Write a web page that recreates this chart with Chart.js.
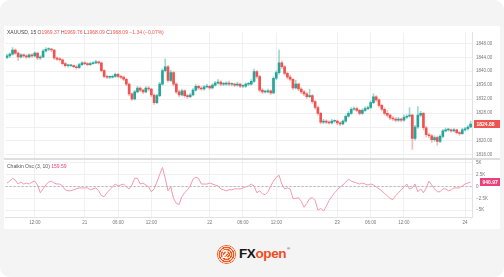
<!DOCTYPE html>
<html>
<head>
<meta charset="utf-8">
<script src="https://cdn.jsdelivr.net/npm/chart.js@4.4.0/dist/chart.umd.min.js"></script>
<style>
    html, body { margin: 0; padding: 0; background: #fff; }
    #frame { position: relative; width: 504px; height: 277px; background: #f4f4f4; border-radius: 10px; overflow: hidden; font-family: "Liberation Sans", Arial, sans-serif; }
    #card { position: absolute; left: 4px; top: 26px; width: 496px; height: 203px; background: #fff; }
    #card canvas { position: absolute; left: 0; top: 0; }
    #emblem { position: absolute; left: 217px; top: 245px; width: 19px; height: 19px; border-radius: 50%;
        background: repeating-radial-gradient(circle, #f15a24 0 1.2px, #fbd3c2 1.2px 2.2px); }
    #emblem span { position: absolute; left: 5px; top: 3px; font: bold 11px "Liberation Sans", Arial; color: #fff; text-shadow: 0 0 1px #f15a24; }
    #brand { position: absolute; left: 239px; top: 246px; font: bold 13.5px "Liberation Sans", Arial; letter-spacing: -0.4px; }
    #brand .fx { color: #151515; }
    #brand .op { color: #f04e23; }
    #brand sup { font-size: 4px; color: #555; vertical-align: 8px; margin-left: 1px; }
</style>
</head>
<body>
<div id="frame">
    <div id="card"><canvas id="chart" width="496" height="203"></canvas></div>
    <div id="emblem"><span>2</span></div>
    <div id="brand"><span class="fx">FX</span><span class="op">open</span><sup>®</sup></div>
</div>
<script>
// XAUUSD candles (30 min buckets)
const opens = [
    1844.0, 1844.4, 1844.9, 1846.1, 1845.2, 1844.1, 1844.7, 1844.4, 1844.1, 1844.7,
    1844.4, 1845.2, 1843.8, 1844.1, 1845.8, 1846.3, 1846.3, 1846.1, 1843.8, 1843.5,
    1843.3, 1842.2, 1841.6, 1841.6, 1841.6, 1841.3, 1841.0, 1841.9, 1842.4, 1842.2,
    1841.9, 1842.2, 1842.4, 1842.7, 1842.4, 1840.2, 1838.5, 1838.3, 1838.3, 1838.5,
    1839.1, 1838.5, 1838.3, 1837.7, 1836.3, 1833.5, 1832.1, 1834.1, 1835.2, 1834.6,
    1834.1, 1835.2, 1834.9, 1833.2, 1831.0, 1833.0, 1836.3, 1840.2, 1841.3, 1837.4,
    1839.6, 1836.3, 1834.1, 1833.2, 1834.4, 1833.0, 1832.7, 1833.2, 1834.6, 1835.7,
    1835.2, 1834.9, 1835.5, 1835.7, 1835.2, 1836.0, 1836.6, 1836.9, 1836.3, 1836.3,
    1836.6, 1836.3, 1836.3, 1836.0, 1836.3, 1835.7, 1835.7, 1836.3, 1836.3, 1837.1,
    1839.9, 1838.5, 1834.6, 1834.1, 1834.1, 1834.4, 1833.8, 1838.0, 1839.6, 1842.4,
    1841.3, 1839.4, 1838.3, 1837.7, 1835.2, 1836.3, 1834.9, 1834.1, 1833.5, 1832.7,
    1833.0, 1831.3, 1829.6, 1827.9, 1825.4, 1825.7, 1825.4, 1825.2, 1825.7, 1825.7,
    1825.2, 1824.9, 1825.7, 1827.1, 1827.9, 1829.1, 1829.3, 1828.8, 1827.9, 1828.8,
    1829.3, 1829.6, 1831.0, 1832.7, 1831.8, 1830.2, 1829.1, 1827.9, 1827.4, 1826.6,
    1826.3, 1826.0, 1826.3, 1826.0, 1826.8, 1827.1, 1827.4, 1820.7, 1824.0, 1827.4,
    1827.9, 1823.8, 1821.8, 1821.5, 1820.4, 1821.0, 1819.9, 1821.3, 1822.9, 1823.2,
    1823.2, 1822.9, 1823.2, 1822.4, 1822.1, 1823.2, 1823.5, 1824.0
];
const closes = [
    1844.4, 1844.9, 1846.1, 1845.2, 1844.1, 1844.7, 1844.4, 1844.1, 1844.7, 1844.4,
    1845.2, 1843.8, 1844.1, 1845.8, 1846.3, 1846.3, 1846.1, 1843.8, 1843.5, 1843.3,
    1842.2, 1841.6, 1841.6, 1841.6, 1841.3, 1841.0, 1841.9, 1842.4, 1842.2, 1841.9,
    1842.2, 1842.4, 1842.7, 1842.4, 1840.2, 1838.5, 1838.3, 1838.3, 1838.5, 1839.1,
    1838.5, 1838.3, 1837.7, 1836.3, 1833.5, 1832.1, 1834.1, 1835.2, 1834.6, 1834.1,
    1835.2, 1834.9, 1833.2, 1831.0, 1833.0, 1836.3, 1840.2, 1841.3, 1837.4, 1839.6,
    1836.3, 1834.1, 1833.2, 1834.4, 1833.0, 1832.7, 1833.2, 1834.6, 1835.7, 1835.2,
    1834.9, 1835.5, 1835.7, 1835.2, 1836.0, 1836.6, 1836.9, 1836.3, 1836.3, 1836.6,
    1836.3, 1836.3, 1836.0, 1836.3, 1835.7, 1835.7, 1836.3, 1836.3, 1837.1, 1839.9,
    1838.5, 1834.6, 1834.1, 1834.1, 1834.4, 1833.8, 1838.0, 1839.6, 1842.4, 1841.3,
    1839.4, 1838.3, 1837.7, 1835.2, 1836.3, 1834.9, 1834.1, 1833.5, 1832.7, 1833.0,
    1831.3, 1829.6, 1827.9, 1825.4, 1825.7, 1825.4, 1825.2, 1825.7, 1825.7, 1825.2,
    1824.9, 1825.7, 1827.1, 1827.9, 1829.1, 1829.3, 1828.8, 1827.9, 1828.8, 1829.3,
    1829.6, 1831.0, 1832.7, 1831.8, 1830.2, 1829.1, 1827.9, 1827.4, 1826.6, 1826.3,
    1826.0, 1826.3, 1826.0, 1826.8, 1827.1, 1827.4, 1820.7, 1824.0, 1827.4, 1827.9,
    1823.8, 1821.8, 1821.5, 1820.4, 1821.0, 1819.9, 1821.3, 1822.9, 1823.2, 1823.2,
    1822.9, 1823.2, 1822.4, 1822.1, 1823.2, 1823.5, 1824.0, 1824.88
];
const highs = [
    1844.9, 1845.3, 1846.8, 1846.4, 1845.5, 1845.1, 1845.0, 1844.8, 1845.0, 1845.0,
    1845.6, 1845.4, 1844.5, 1846.2, 1846.8, 1846.7, 1846.6, 1846.3, 1844.1, 1843.9,
    1843.5, 1842.5, 1842.0, 1841.9, 1841.8, 1841.6, 1842.3, 1842.8, 1842.7, 1842.5,
    1842.6, 1842.8, 1843.1, 1843.0, 1842.6, 1840.5, 1838.9, 1838.7, 1838.9, 1839.5,
    1839.4, 1838.8, 1838.6, 1838.0, 1836.6, 1833.8, 1834.5, 1835.7, 1835.5, 1834.9,
    1835.6, 1835.7, 1835.1, 1833.5, 1833.4, 1836.8, 1840.7, 1843.6, 1841.7, 1840.3,
    1839.9, 1836.7, 1834.6, 1834.9, 1834.7, 1833.4, 1833.7, 1835.0, 1836.2, 1836.0,
    1835.6, 1835.9, 1836.3, 1836.0, 1836.4, 1837.1, 1837.6, 1837.3, 1836.8, 1837.0,
    1837.2, 1836.7, 1836.6, 1836.9, 1836.6, 1836.1, 1836.7, 1836.8, 1837.6, 1840.6,
    1840.2, 1838.8, 1835.0, 1834.6, 1834.9, 1834.7, 1838.4, 1840.1, 1846.1, 1843.0,
    1841.7, 1839.8, 1838.9, 1838.0, 1837.5, 1836.6, 1835.3, 1834.5, 1833.9, 1834.8,
    1833.3, 1831.6, 1830.0, 1828.2, 1826.2, 1826.1, 1825.8, 1826.2, 1826.1, 1826.0,
    1825.5, 1826.1, 1827.5, 1828.4, 1829.6, 1829.8, 1829.7, 1829.1, 1829.2, 1829.8,
    1830.0, 1831.5, 1833.5, 1833.0, 1832.1, 1830.6, 1829.5, 1828.7, 1827.8, 1827.0,
    1826.7, 1826.8, 1826.6, 1827.5, 1827.6, 1829.6, 1827.7, 1824.5, 1829.9, 1828.5,
    1828.2, 1824.2, 1822.3, 1821.9, 1821.5, 1821.4, 1821.8, 1823.3, 1823.7, 1823.6,
    1823.5, 1823.6, 1823.4, 1822.7, 1823.6, 1823.9, 1824.4, 1825.7
];
const lows = [
    1843.6, 1844.0, 1844.6, 1844.8, 1843.1, 1843.8, 1844.0, 1843.7, 1843.8, 1844.0,
    1844.1, 1843.3, 1843.4, 1843.9, 1845.5, 1845.9, 1845.6, 1843.4, 1843.1, 1842.9,
    1841.8, 1841.2, 1841.2, 1841.3, 1841.0, 1840.6, 1840.8, 1841.6, 1841.9, 1841.5,
    1841.7, 1842.0, 1842.2, 1842.0, 1839.8, 1838.1, 1837.9, 1837.9, 1838.0, 1838.2,
    1838.1, 1837.9, 1837.3, 1835.9, 1833.0, 1831.6, 1831.8, 1833.8, 1834.1, 1833.6,
    1833.8, 1834.4, 1832.7, 1830.5, 1830.7, 1832.7, 1836.0, 1839.8, 1836.9, 1837.0,
    1835.8, 1833.6, 1832.7, 1832.9, 1832.5, 1832.2, 1832.4, 1832.9, 1834.3, 1834.8,
    1834.5, 1834.6, 1835.2, 1834.8, 1834.9, 1835.7, 1836.3, 1835.9, 1835.9, 1836.0,
    1835.9, 1835.8, 1835.6, 1835.7, 1835.3, 1835.3, 1835.4, 1835.9, 1836.0, 1836.8,
    1838.0, 1834.1, 1833.6, 1833.7, 1833.8, 1833.3, 1833.5, 1837.6, 1839.2, 1840.8,
    1838.9, 1837.8, 1837.2, 1834.7, 1834.9, 1834.4, 1833.6, 1833.0, 1832.2, 1832.4,
    1830.8, 1829.1, 1827.4, 1824.9, 1825.0, 1825.0, 1824.8, 1824.9, 1825.3, 1824.7,
    1824.4, 1824.6, 1825.4, 1826.8, 1827.6, 1828.8, 1828.4, 1827.5, 1827.6, 1828.5,
    1829.0, 1829.3, 1830.7, 1831.3, 1829.7, 1828.6, 1827.4, 1826.9, 1826.1, 1825.8,
    1825.5, 1825.6, 1825.5, 1825.7, 1826.4, 1826.8, 1817.6, 1820.2, 1823.6, 1826.9,
    1823.2, 1821.2, 1820.9, 1819.6, 1819.9, 1818.8, 1819.5, 1820.9, 1822.6, 1822.8,
    1822.5, 1822.6, 1822.0, 1821.6, 1821.9, 1822.9, 1823.1, 1823.8
];

// Chaikin Oscillator (3, 10)
const chaikin = [
    710, 1120, 1730, 1330, 510, 920, 510, 710, 510, 920,
    1120, 310, -1330, -510, 310, 920, 1120, 710, 510, 510,
    100, -710, -920, -920, -710, -510, -310, -310, -310, -310,
    -710, -510, -310, -920, -1940, -2140, -1330, -710, -100, 510,
    100, 310, 510, -100, -510, 310, 1730, 1730, 510, 710,
    310, -100, -1120, -510, 920, 2550, 3980, 1730, -920, -100,
    -2550, -3570, -3770, -2140, -1330, -710, 100, 1530, 1940, 1730,
    510, 510, 510, 710, 510, 310, 100, -510, -710, -920,
    -710, -710, -510, -510, -510, -310, -100, 100, 510, 100,
    -1330, -920, -1530, -1730, -1120, 100, 1120, 1940, 2350, 510,
    -510, -310, -510, -2550, -2550, -2350, -3160, -4390, -3570, -2550,
    -2350, -2960, -5000, -4590, -5200, -4180, -2960, -2140, -1330, -710,
    -100, 310, 920, 1530, 1120, 920, 710, 510, 710, 510,
    310, 510, 310, -100, -510, -920, -1530, -1940, -2550, -2750,
    -1940, -1330, -710, -100, 510, -510, -310, 510, -1120, -510,
    -1330, -310, 1120, 310, -510, -1120, -1120, -510, -510, -920,
    -710, -310, -310, -310, 100, 510, 710, 940.97
];

// time axis labels and where they sit
const tickIdx = [10, 28, 40, 52, 73, 85, 97, 119, 131, 143, 165];
const tickText = ['12:00', '21', '06:00', '12:00', '22', '06:00', '12:00', '23', '06:00', '12:00', '24'];
const priceTicks = [1848, 1844, 1840, 1836, 1832, 1828, 1824, 1820, 1816];
const oscTicks = [5000, 2500, 0, -2500, -5000];
const oscTickText = ['5K', '2.5K', '0', '\u22122.5K', '\u22125K'];
const chaikinLegend = '159.59';

const UP = '#26a69a';
const DOWN = '#ef5350';

document.addEventListener("DOMContentLoaded", function () {
    const labels = new Array(closes.length).fill('');
    tickIdx.forEach((k, j) => { labels[k] = tickText[j]; });
    const isUp = closes.map((c, i) => c >= opens[i]);

    // legend, pane separator, zero line and last-value tags
    const overlay = {
        id: 'overlay',
        beforeDatasetsDraw(chart) {
            const ctx = chart.ctx;
            const a = chart.chartArea;
            const y2 = chart.scales.y2;
            ctx.save();
            ctx.strokeStyle = '#b5b5b5';
            ctx.lineWidth = 1;
            ctx.setLineDash([2, 2]);
            const z = Math.round(y2.getPixelForValue(0)) + 0.5;
            ctx.beginPath();
            ctx.moveTo(a.left, z);
            ctx.lineTo(a.right, z);
            ctx.stroke();
            ctx.restore();
        },
        afterDraw(chart) {
            const ctx = chart.ctx;
            const y = chart.scales.y;
            const y2 = chart.scales.y2;
            ctx.save();
            // separator between panes
            ctx.fillStyle = '#dedede';
            ctx.fillRect(0, Math.round(y.bottom) - 1, chart.width, 2);

            // header legend
            ctx.font = '5px "Liberation Sans", Arial';
            ctx.textBaseline = 'middle';
            let x = 3;
            const parts = [
                ['XAUUSD, 15 ', '#444'], ['O', '#555'], ['1969.37 ', DOWN], ['H', '#555'], ['1969.76 ', DOWN],
                ['L', '#555'], ['1968.09 ', DOWN], ['C', '#555'], ['1968.09 ', DOWN], ['\u22121.34 (\u22120.07%)', DOWN]
            ];
            parts.forEach(p => {
                ctx.fillStyle = p[1];
                ctx.fillText(p[0], x, 7);
                x += ctx.measureText(p[0]).width;
            });
            // oscillator legend
            x = 3;
            ctx.fillStyle = '#555';
            ctx.fillText('Chaikin Osc (3, 10) ', x, Math.round(y2.top) + 8);
            x += ctx.measureText('Chaikin Osc (3, 10) ').width;
            ctx.fillStyle = '#ec407a';
            ctx.fillText(chaikinLegend, x, Math.round(y2.top) + 8);

            // last value tags on the right scale
            const tag = (val, txt, color, scale, left) => {
                const py = Math.round(scale.getPixelForValue(val));
                ctx.fillStyle = color;
                ctx.fillRect(scale.left + left, py - 4, 28 - left, 8);
                ctx.fillStyle = '#fff';
                ctx.font = 'bold 5px "Liberation Sans", Arial';
                ctx.fillText(txt, scale.left + left + 2.5, py + 0.5);
            };
            tag(closes[closes.length - 1], closes[closes.length - 1].toFixed(2), DOWN, y, 2);
            tag(chaikin[chaikin.length - 1], chaikin[chaikin.length - 1].toFixed(2), '#ec407a', y2, 8);
            ctx.restore();
        }
    };

    const ctx = document.getElementById('chart').getContext('2d');
    new Chart(ctx, {
        type: 'bar',
        data: {
            labels: labels,
            datasets: [{
                // candle bodies
                data: closes.map((c, i) => [opens[i], c]),
                backgroundColor: isUp.map(u => u ? UP : DOWN),
                barThickness: 2,
                minBarLength: 0.8,
                grouped: false,
                yAxisID: 'y',
                order: 1
            }, {
                // wicks
                data: highs.map((h, i) => [lows[i], h]),
                backgroundColor: isUp.map(u => u ? 'rgba(38,166,154,0.45)' : 'rgba(239,83,80,0.4)'),
                barThickness: 1,
                grouped: false,
                yAxisID: 'y',
                order: 2
            }, {
                type: 'line',
                data: chaikin,
                borderColor: '#f598b0',
                borderWidth: 1,
                pointRadius: 0,
                tension: 0,
                yAxisID: 'y2',
                order: 0
            }]
        },
        options: {
            responsive: false,
            animation: false,
            layout: { padding: { left: 1, top: 1, right: 0, bottom: 0 } },
            plugins: { legend: { display: false }, tooltip: { enabled: false } },
            scales: {
                x: {
                    offset: true,
                    grid: { offset: false, drawTicks: false, color: c => labels[c.index] ? '#f0f0f0' : 'rgba(0,0,0,0)' },
                    border: { color: '#e2e2e2' },
                    ticks: {
                        autoSkip: false, maxRotation: 0, padding: 3, color: '#777',
                        font: { size: 4.5, family: '"Liberation Sans", Arial' },
                        callback: (v, i) => labels[i]
                    },
                    afterFit: s => { s.height = 12; }
                },
                y: {
                    position: 'right',
                    stack: 'panes',
                    stackWeight: 130,
                    min: 1814.89,
                    max: 1851.06,
                    afterBuildTicks: s => { s.ticks = priceTicks.map(v => ({ value: v })); },
                    grid: { color: '#f0f0f0', drawTicks: false },
                    border: { color: '#e2e2e2' },
                    ticks: {
                        autoSkip: false, padding: 4, color: '#777',
                        font: { size: 4.5, family: '"Liberation Sans", Arial' },
                        callback: v => v.toFixed(2)
                    },
                    afterFit: s => { s.width = 28; }
                },
                y2: {
                    position: 'right',
                    stack: 'panes',
                    stackWeight: 60,
                    min: -6430,
                    max: 5816,
                    afterBuildTicks: s => { s.ticks = oscTicks.map(v => ({ value: v })); },
                    grid: { color: '#f0f0f0', drawTicks: false },
                    border: { color: '#e2e2e2' },
                    ticks: {
                        autoSkip: false, padding: 4, color: '#777',
                        font: { size: 4.5, family: '"Liberation Sans", Arial' },
                        callback: v => oscTickText[oscTicks.indexOf(v)]
                    },
                    afterFit: s => { s.width = 28; }
                }
            }
        },
        plugins: [overlay]
    });
});
</script>
</body>
</html>
